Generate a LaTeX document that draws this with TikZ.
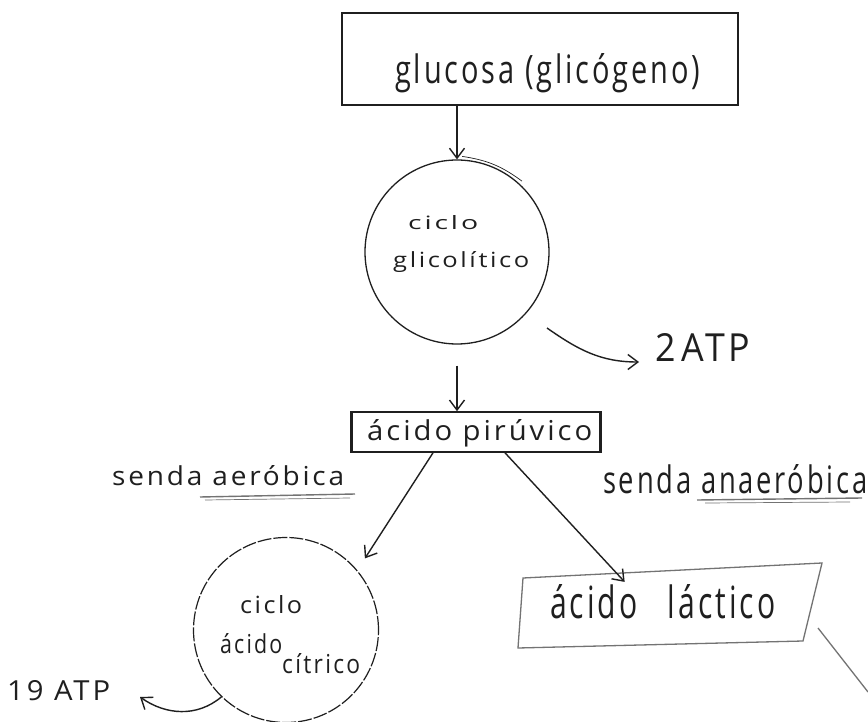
\documentclass[tikz,border=0pt]{standalone}
\usepackage{fontspec}
\usepackage{graphicx}
\setmainfont{Open Sans}
\newfontfamily\hand[LetterSpace=10]{Open Sans}
\usetikzlibrary{arrows.meta,calc}
\definecolor{ink}{gray}{0.12}
\definecolor{pencil}{gray}{0.45}
\newcommand\hw[3]{\resizebox{#1pt}{#2pt}{\hand #3}}
\tikzset{
  ink/.style={draw=ink, line width=1.4pt},
  arr/.style={ink, -{Straight Barb[length=10pt,width=15pt,line width=1.4pt]}},
  txt/.style={text=ink, inner sep=0pt, anchor=base west},
}
\begin{document}
\begin{tikzpicture}[x=1pt,y=-1pt]
\useasboundingbox[fill=white] (0,0) rectangle (868,722);

% glucosa box
\node[ink, line width=1.7pt, minimum width=396pt, minimum height=92pt, inner sep=0pt] (glu) at (540,59) {};
\node[txt] (glut) at (395,84) {\hw{305}{30}{glucosa (glicógeno)}};

% ciclo glicolitico
\node[ink, circle, minimum size=184pt, inner sep=0pt, line width=1.3pt] (c1) at (457,252) {};
\node[txt] (c1a) at (408,230) {\hw{70}{14}{ciclo}};
\node[txt] (c1b) at (393,268) {\hw{136}{16}{glicolítico}};
\draw[ink, line width=0.7pt] ([shift={(2,-3)}]c1.88) to[bend left=14] ([shift={(3,-2)}]c1.48);

\draw[arr] (glu.south -| c1.north) -- (c1.north);

% 2 ATP
\node[txt] (atp2) at (655,361) {\hw{95}{28}{2\,ATP}};
\coordinate (s2) at (547,328);
\draw[arr] (s2) to[out=-35, in=180] ([xshift=-16pt,yshift=-1pt]atp2.base west);

% acido piruvico
\node[ink, line width=1.6pt, minimum width=248pt, minimum height=40pt, inner sep=0pt] (pir) at (476,432) {};
\draw[ink, line width=3.2pt] (pir.north west) -- (pir.south west);
\draw[ink, line width=2.4pt] (pir.north east) -- (pir.south east);
\node[txt] (pirt) at (367,440) {\hw{225}{21}{ácido pirúvico}};
\draw[arr] ([yshift=-21pt]c1.south) -- (pir.north -| c1.south);

% senda labels
\node[txt] (aer) at (112,485) {\hw{232}{20}{senda aeróbica}};
\draw[pencil, line width=1.4pt] (200,497) -- (355,494);
\draw[pencil, line width=0.7pt] (205,500) -- (350,498);
\node[txt] (ana) at (603,493) {\hw{264}{29}{senda anaeróbica}};
\draw[pencil, line width=1.4pt] (697,500) -- (862,498);
\draw[pencil, line width=0.7pt] (705,503) -- (850,502);

% ciclo acido citrico
\node[draw=ink, line width=1.2pt, dash pattern=on 14pt off 2pt, circle, minimum size=185pt, inner sep=0pt] (c2) at (286,630) {};
\node[txt] (c2a) at (240,613) {\hw{62}{18}{ciclo}};
\node[txt] (c2b) at (220,653) {\hw{62}{20}{ácido}};
\node[txt] (c2c) at (282,673) {\hw{78}{20}{cítrico}};

\draw[arr, shorten >=14pt] ([xshift=-43pt]pir.south) -- (c2.40);

% acido lactico
\coordinate (l1) at (523,578);
\coordinate (l2) at (822,563);
\coordinate (l3) at (803,641);
\coordinate (l4) at (518,648);
\draw[draw=pencil, line width=1.3pt] (l1) -- (l2) -- (l3) -- (l4) -- cycle;
\node[txt] (lac) at (550,618) {\hw{225}{34}{ácido\quad láctico}};
\draw[arr] ([xshift=29pt]pir.south) -- ($(l1)!0.34!(l2)+(0,9)$);
\coordinate (off) at (868,692);
\draw[pencil, line width=1.3pt] (818,628) -- (off);

% 19 ATP
\node[txt] (atp19) at (7,700) {\hw{103}{20}{19 ATP}};
\draw[arr] (c2.226) to[out=220, in=-35] (140,697);
\end{tikzpicture}
\end{document}
